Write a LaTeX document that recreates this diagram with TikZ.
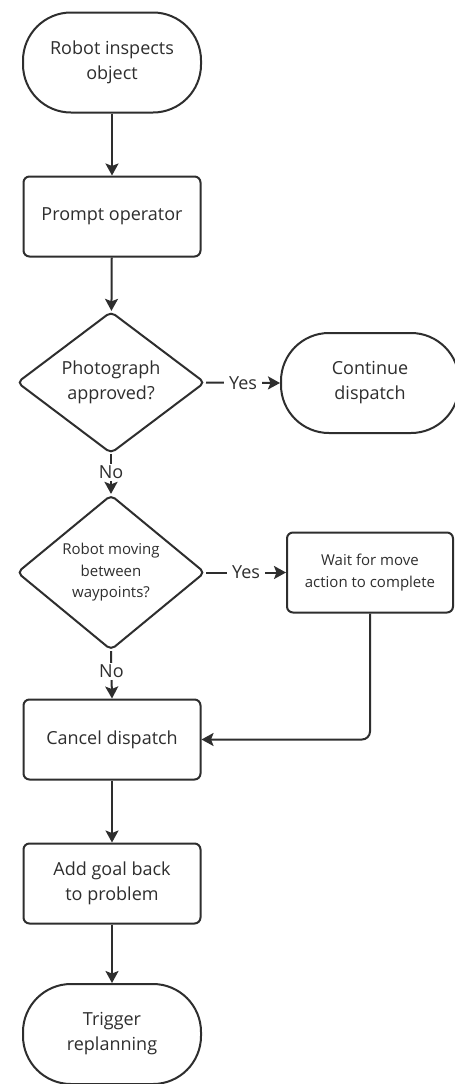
\documentclass[tikz,border=0pt]{standalone}
\usepackage{fontspec}
\setmainfont{Open Sans}
\usetikzlibrary{shapes.geometric,arrows.meta}
\definecolor{ink}{HTML}{2E2E2E}
\begin{document}
\begin{tikzpicture}[x=1pt,y=1pt,
  every node/.style={text=ink, align=center, font=\fontsize{18}{25}\selectfont},
  base/.style={draw=ink, line width=2pt, inner sep=0pt},
  terminal/.style={base, rectangle, rounded corners=48pt, minimum width=178pt, minimum height=100pt},
  process/.style={base, rectangle, rounded corners=6pt, minimum width=177pt, minimum height=80pt},
  decision/.style={base, diamond, rounded corners=5pt, minimum width=188pt, minimum height=125pt},
  small/.style={font=\fontsize{15}{21.5}\selectfont},
  flow/.style={draw=ink, line width=2pt, -{Stealth[length=12pt,width=13pt,inset=2.5pt]}},
  lbl/.style={fill=white, inner xsep=5pt, inner ysep=2pt}
]
\useasboundingbox[fill=white] (0,0) rectangle (455,-1084);

% main column
\node[terminal] (start)  at (112,-62.5)  {Robot inspects\\object};
\node[process]  (prompt) at (112,-216.5) {Prompt operator};
\node[decision] (photo)  at (111,-382.5) {Photograph\\approved?};
\node[decision, small] (moving) at (111,-572.5) {Robot moving\\between\\waypoints?};
\node[process]  (cancel) at (112,-739.5) {Cancel dispatch};
\node[process]  (goal)   at (112,-883.5) {Add goal back\\to problem};
\node[terminal] (replan) at (112,-1034)  {Trigger\\replanning};

% side column
\node[terminal] (cont) at (370,-383) {Continue\\dispatch};
\node[process, small, minimum width=166pt] (wait) at (370,-572.5) {Wait for move\\action to complete};
\coordinate (bend) at (wait.south |- cancel.east);

% connectors
\draw[flow] (start) -- (prompt);
\draw[flow] (prompt) -- (photo);
\draw[flow] (photo.east) -- node[lbl] {Yes} (cont.west);
\draw[flow] (photo.south) -- node[lbl, pos=0.45] {No} (moving.north);
\draw[flow] (moving.east) -- node[lbl] {Yes} (wait.west);
\draw[flow] (moving.south) -- node[lbl, pos=0.42] {No} (cancel.north);
\draw[flow, rounded corners=8pt] (wait.south) -- (bend) -- (cancel.east);
\draw[flow] (cancel) -- (goal);
\draw[flow] (goal) -- (replan);
\end{tikzpicture}
\end{document}
